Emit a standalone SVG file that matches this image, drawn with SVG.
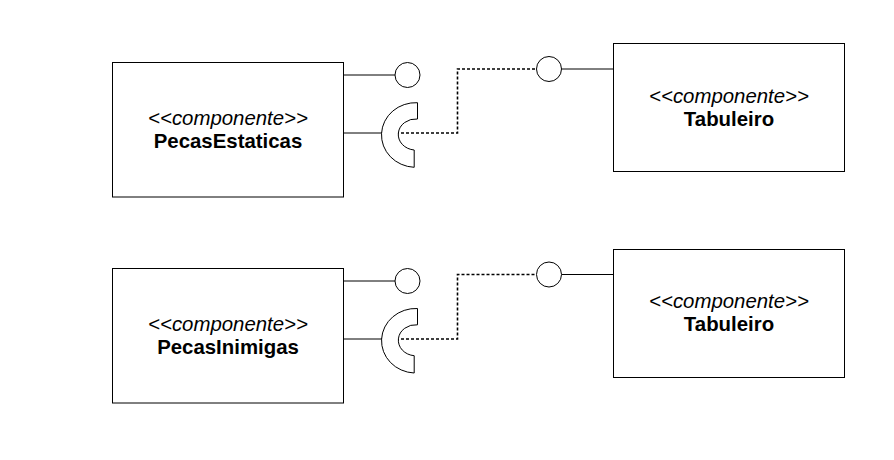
<svg xmlns="http://www.w3.org/2000/svg" width="894" height="460" viewBox="0 0 894 460">
<style>
.box{fill:#fff;stroke:#000;stroke-width:1}
.ln{fill:none;stroke:#000;stroke-width:1}
.dot{fill:none;stroke:#000;stroke-width:1.6;stroke-dasharray:3 2}
.ifc{fill:#fff;stroke:#000;stroke-width:1}
.st{font-family:"Liberation Sans",Arial,sans-serif;font-size:20.4px;font-style:italic;text-anchor:middle}
.nm{font-family:"Liberation Sans",Arial,sans-serif;font-size:20.4px;font-weight:bold;text-anchor:middle}
</style>
<rect width="894" height="460" fill="#fff"/>
<g id="connectors">
<line class="ln" x1="343.5" y1="75" x2="395" y2="75"/>
<line class="ln" x1="343.5" y1="133" x2="381" y2="133"/>
<path class="dot" d="M381,133 H457.5 V69 H536"/>
<line class="ln" x1="561.5" y1="69" x2="613.5" y2="69"/>
<line class="ln" x1="343.5" y1="281" x2="395" y2="281"/>
<line class="ln" x1="343.5" y1="339" x2="381" y2="339"/>
<path class="dot" d="M381,339 H457.5 V274.5 H536"/>
<line class="ln" x1="561.5" y1="274.5" x2="613.5" y2="274.5"/>
</g>
<g id="PecasEstaticas">
<rect class="box" x="112.5" y="62.5" width="231" height="134.5"/>
<text class="st" x="228" y="125">&lt;&lt;componente&gt;&gt;</text>
<text class="nm" x="228" y="147.5">PecasEstaticas</text>
</g>
<g id="PecasEstaticas-provided">
<circle class="ifc" cx="407.5" cy="75" r="12.5"/>
</g>
<g id="PecasEstaticas-required">
<path class="ifc" d="M417.5,102.7 A34,32 0 0 0 414.2,167.3 L414.2,150 A17.5,15.5 0 0 1 417.5,119 Z"/>
</g>
<g id="Tabuleiro1">
<rect class="box" x="613.5" y="43.5" width="231" height="128"/>
<text class="st" x="729" y="103">&lt;&lt;componente&gt;&gt;</text>
<text class="nm" x="729" y="126">Tabuleiro</text>
</g>
<g id="Tabuleiro1-provided">
<circle class="ifc" cx="549" cy="69" r="12.5"/>
</g>
<g id="PecasInimigas">
<rect class="box" x="112.5" y="268.5" width="231" height="134.5"/>
<text class="st" x="228" y="331">&lt;&lt;componente&gt;&gt;</text>
<text class="nm" x="228" y="353.5">PecasInimigas</text>
</g>
<g id="PecasInimigas-provided">
<circle class="ifc" cx="407.5" cy="281" r="12.5"/>
</g>
<g id="PecasInimigas-required">
<path class="ifc" d="M417.5,308.5 A34,32 0 0 0 414.2,373 L414.2,355.7 A17.5,15.5 0 0 1 417.5,324.8 Z"/>
</g>
<g id="Tabuleiro2">
<rect class="box" x="613.5" y="249.5" width="231" height="128"/>
<text class="st" x="729" y="308">&lt;&lt;componente&gt;&gt;</text>
<text class="nm" x="729" y="331">Tabuleiro</text>
</g>
<g id="Tabuleiro2-provided">
<circle class="ifc" cx="549" cy="274.5" r="12.5"/>
</g>
</svg>
